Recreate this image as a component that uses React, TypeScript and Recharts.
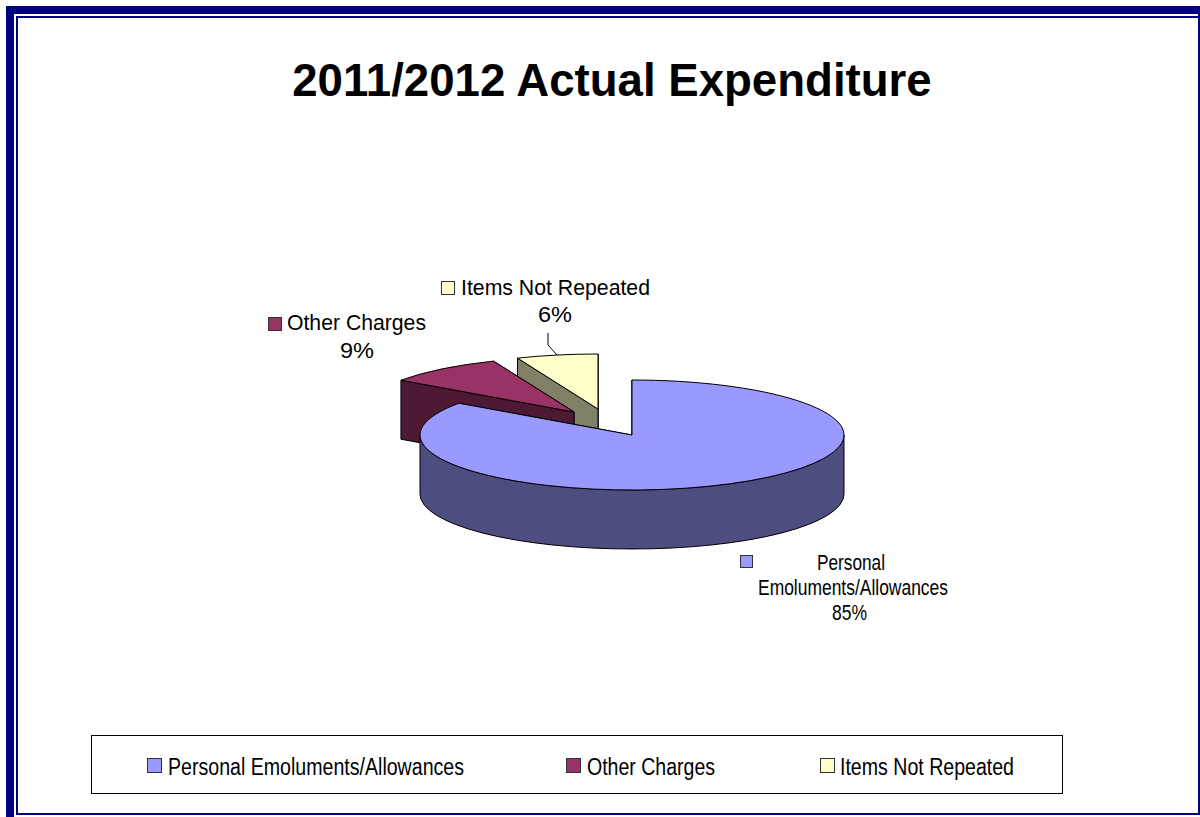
import React from 'react';
import { PieChart, Pie, Cell, Legend } from 'recharts';

const title = '2011/2012 Actual Expenditure';
const categories = ['Personal Emoluments/Allowances', 'Other Charges', 'Items Not Repeated'];
const shares = [84.8, 9, 6.2];

// pie is drawn back to front, so the big slice comes last and sits on top
const pieRows = categories.map((name, i) => ({ name, value: shares[i] })).reverse();

const FONT = '"Liberation Sans", Arial, sans-serif';
const NAVY = '#000080';
const PIE_X = 632;
const PIE_Y = 435;
const RX = 212;
const RY = 55;
const DEPTH = 59;

const sliceLook: Record<string, { top: string; wall: string; dx: number; dy: number }> = {
  'Personal Emoluments/Allowances': { top: '#9999FF', wall: '#4D4D80', dx: 0, dy: 0 },
  'Other Charges': { top: '#993366', wall: '#4D1933', dx: -58, dy: -23 },
  'Items Not Repeated': { top: '#FFFFCC', wall: '#808066', dx: -34, dy: -26 },
};

const labelLook: Record<string, any> = {
  'Personal Emoluments/Allowances': {
    box: [740, 555],
    size: 13,
    font: 22,
    lines: [
      { text: 'Personal', x: 817, y: 570, w: 68 },
      { text: 'Emoluments/Allowances', x: 758, y: 595, w: 190 },
    ],
    pct: { x: 832, y: 620, w: 35 },
  },
  'Other Charges': {
    box: [268, 317],
    size: 14,
    font: 21.3,
    lines: [{ text: 'Other Charges', x: 287, y: 330, w: 139 }],
    pct: { x: 340, y: 358, w: 34 },
  },
  'Items Not Repeated': {
    box: [441, 281],
    size: 14,
    font: 21.3,
    lines: [{ text: 'Items Not Repeated', x: 461, y: 295, w: 189 }],
    pct: { x: 538, y: 322, w: 34 },
    leader: '548,333 548,345 557,355',
  },
};

const legendLook: Record<string, { box: number; text: number; w: number }> = {
  'Personal Emoluments/Allowances': { box: 147, text: 168, w: 296 },
  'Other Charges': { box: 566, text: 587, w: 128 },
  'Items Not Repeated': { box: 820, text: 840, w: 174 },
};

const rad = (a: number) => (a * Math.PI) / 180;

function Slice3D(props: any) {
  const { startAngle, endAngle, name, cx, cy, outerRadius } = props;
  const look = sliceLook[name];
  const ox = cx + look.dx;
  const oy = cy + look.dy;
  const scaleY = RY / outerRadius;
  const pt = (a: number, down = 0): [number, number] => [
    ox + outerRadius * Math.cos(rad(a)),
    oy - outerRadius * scaleY * Math.sin(rad(a)) + down,
  ];
  const arc = (to: [number, number], large: number, sweep: number) =>
    `A${outerRadius} ${outerRadius * scaleY} 0 ${large} ${sweep} ${to[0]} ${to[1]}`;

  const radialWall = (a: number) => {
    const p = pt(a);
    const q = pt(a, DEPTH);
    return `M${ox} ${oy}L${p[0]} ${p[1]}L${q[0]} ${q[1]}L${ox} ${oy + DEPTH}Z`;
  };

  // only the front half of the rim faces the viewer
  const lo = Math.max(startAngle, 180);
  const hi = Math.min(endAngle, 360);
  let rim = '';
  if (hi > lo) {
    const a = pt(lo);
    const b = pt(hi);
    const c = pt(hi, DEPTH);
    const d = pt(lo, DEPTH);
    rim = `M${a[0]} ${a[1]}${arc(b, 0, 0)}L${c[0]} ${c[1]}${arc(d, 0, 1)}Z`;
  }

  const s = pt(startAngle);
  const e = pt(endAngle);
  const topPath = `M${ox} ${oy}L${s[0]} ${s[1]}${arc(e, endAngle - startAngle > 180 ? 1 : 0, 0)}Z`;

  return (
    <g stroke="#000" strokeWidth={1} strokeLinejoin="round">
      <path d={radialWall(startAngle)} fill={look.wall} />
      <path d={radialWall(endAngle)} fill={look.wall} />
      {rim && <path d={rim} fill={look.wall} />}
      <path d={topPath} fill={look.top} />
    </g>
  );
}

function SliceLabel(props: any) {
  const { name, percent } = props;
  const look = labelLook[name];
  return (
    <g fontFamily={FONT} fontSize={look.font} fill="#000">
      <rect x={look.box[0] + 0.5} y={look.box[1] + 0.5} width={look.size - 1} height={look.size - 1} fill={sliceLook[name].top} stroke="#333" />
      {look.lines.map((l: any) => (
        <text key={l.text} x={l.x} y={l.y} textLength={l.w} lengthAdjust="spacingAndGlyphs">
          {l.text}
        </text>
      ))}
      <text x={look.pct.x} y={look.pct.y} textLength={look.pct.w} lengthAdjust="spacingAndGlyphs">
        {`${Math.round(percent * 100)}%`}
      </text>
      {look.leader && <polyline points={look.leader} fill="none" stroke="#000" strokeWidth={1} />}
    </g>
  );
}

function BoxedLegend() {
  return (
    <svg width={972} height={60} style={{ display: 'block' }}>
      <rect x={0.5} y={0.5} width={971} height={58} fill="#fff" stroke="#000" strokeWidth={1} />
      {categories.map((name) => {
        const l = legendLook[name];
        return (
          <g key={name}>
            <rect x={l.box - 91 + 0.5} y={23.5} width={14} height={14} fill={sliceLook[name].top} stroke="#333" />
            <text x={l.text - 91} y={40} fontFamily={FONT} fontSize={23} fill="#000" textLength={l.w} lengthAdjust="spacingAndGlyphs">
              {name}
            </text>
          </g>
        );
      })}
    </svg>
  );
}

export default function App() {
  return (
    <div style={{ position: 'absolute', left: 0, top: 0, width: 1200, height: 817, background: '#fff', overflow: 'hidden' }}>
      {/* double navy frame */}
      <div style={{ position: 'absolute', left: 6, top: 6, width: 1194, height: 8, background: NAVY }} />
      <div style={{ position: 'absolute', left: 6, top: 6, width: 8, height: 811, background: NAVY }} />
      <div style={{ position: 'absolute', left: 16, top: 16, width: 1184, height: 2, background: NAVY }} />
      <div style={{ position: 'absolute', left: 16, top: 16, width: 2, height: 799, background: NAVY }} />
      <div style={{ position: 'absolute', left: 16, top: 813, width: 1184, height: 2, background: NAVY }} />
      <div style={{ position: 'absolute', left: 1198, top: 6, width: 2, height: 809, background: NAVY }} />
      <div style={{ position: 'absolute', left: 0, top: 0 }}>
        <PieChart width={1200} height={817} margin={{ top: 0, right: 0, bottom: 0, left: 0 }}>
          <text x={612} y={96} textAnchor="middle" fontFamily={FONT} fontSize={45.6} fontWeight="bold" fill="#000">
            {title}
          </text>
          <Pie
            data={pieRows}
            dataKey="value"
            nameKey="name"
            cx={PIE_X}
            cy={PIE_Y}
            innerRadius={0}
            outerRadius={RX}
            startAngle={90}
            endAngle={450}
            isAnimationActive={false}
            shape={Slice3D}
            label={SliceLabel}
            labelLine={false}
          >
            {pieRows.map((row) => (
              <Cell key={row.name} fill={sliceLook[row.name].top} />
            ))}
          </Pie>
          <Legend
            content={BoxedLegend}
            wrapperStyle={{ position: 'absolute', left: 91, top: 735, width: 972, height: 60, bottom: 'auto' }}
          />
        </PieChart>
      </div>
    </div>
  );
}
